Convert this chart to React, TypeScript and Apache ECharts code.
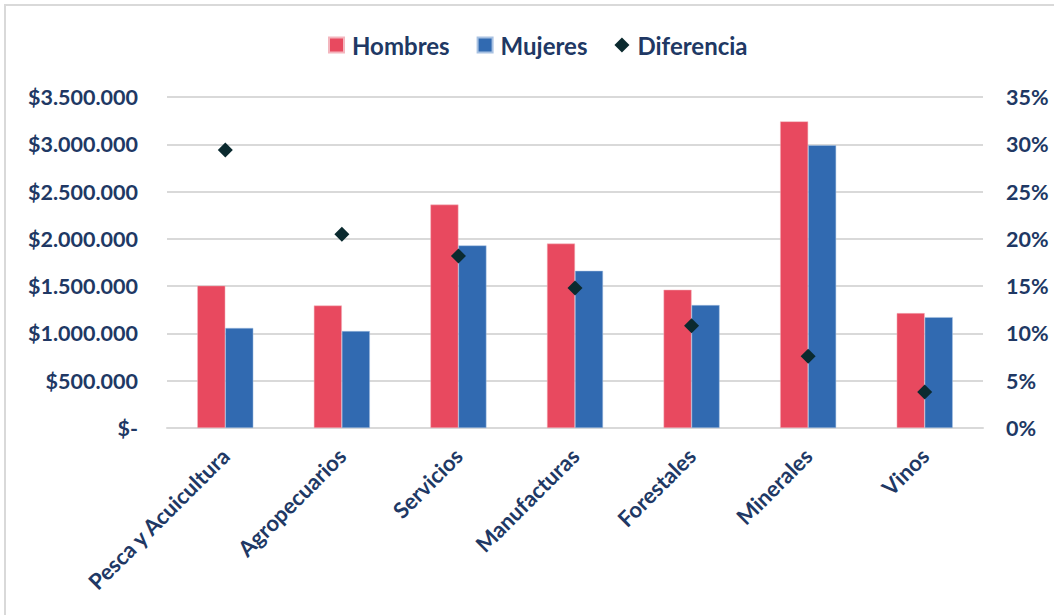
import React, { useEffect, useRef } from "react";
import * as echarts from "echarts";

const categories = [
  "Pesca y Acuicultura",
  "Agropecuarios",
  "Servicios",
  "Manufacturas",
  "Forestales",
  "Minerales",
  "Vinos",
];
const hombres = [1505000, 1295000, 2362000, 1950000, 1462000, 3242000, 1215000];
const mujeres = [1058000, 1025000, 1930000, 1662000, 1300000, 2990000, 1172000];
const diferencia = [29.4, 20.5, 18.2, 14.8, 10.8, 7.6, 3.8];

const TEXT = "#203864";
const FONT = "Lato";

function fmtMoney(v: number): string {
  if (v === 0) return "$-";
  const s = Math.round(v).toString().replace(/\B(?=(\d{3})+(?!\d))/g, ".");
  return "$" + s;
}

export default function App() {
  const ref = useRef<HTMLDivElement>(null);
  useEffect(() => {
    if (!ref.current) return;
    const chart = echarts.init(ref.current, null, { renderer: "svg" });
    chart.setOption({
      animation: false,
      backgroundColor: "#ffffff",
      textStyle: { fontFamily: FONT },
      graphic: [
        {
          type: "rect",
          shape: { x: 5, y: 5, width: 1100, height: 700 },
          style: { fill: "none", stroke: "#d9d9d9", lineWidth: 2 },
          silent: true,
        },
      ],
      legend: {
        left: 323,
        top: 28,
        itemGap: 27,
        itemWidth: 15,
        itemHeight: 15,
        textStyle: {
          color: TEXT,
          fontSize: 24,
          fontWeight: "bold",
          fontFamily: FONT,
          padding: [0, 0, 0, 3],
        },
        data: [
          { name: "Hombres", icon: "rect" },
          { name: "Mujeres", icon: "rect" },
          { name: "Diferencia", icon: "diamond" },
        ],
      },
      grid: { left: 167, right: 71, top: 97, bottom: 187, containLabel: false },
      xAxis: {
        type: "category",
        data: categories,
        axisLine: { show: true, lineStyle: { color: "#d9d9d9", width: 2 } },
        axisTick: { show: false },
        axisLabel: {
          rotate: 45,
          margin: 24,
          interval: 0,
          color: TEXT,
          fontSize: 22,
          fontWeight: "bold",
          fontFamily: FONT,
        },
      },
      yAxis: [
        {
          type: "value",
          min: 0,
          max: 3500000,
          interval: 500000,
          axisLine: { show: false },
          axisTick: { show: false },
          splitLine: { lineStyle: { color: "#d9d9d9", width: 2 } },
          axisLabel: {
            margin: 29,
            color: TEXT,
            fontSize: 21.5,
            fontWeight: "bold",
            fontFamily: FONT,
            formatter: fmtMoney,
          },
        },
        {
          type: "value",
          min: 0,
          max: 35,
          interval: 5,
          position: "right",
          axisLine: { show: false },
          axisTick: { show: false },
          splitLine: { show: false },
          axisLabel: {
            margin: 23,
            color: TEXT,
            fontSize: 21.5,
            fontWeight: "bold",
            fontFamily: FONT,
            formatter: (v: number) => v + "%",
          },
        },
      ],
      series: [
        {
          name: "Hombres",
          type: "bar",
          data: hombres,
          barWidth: 28,
          barGap: "0%",
          itemStyle: { color: "#e8495f", borderColor: "#f3b6be", borderWidth: 0.5 },
        },
        {
          name: "Mujeres",
          type: "bar",
          data: mujeres,
          barWidth: 28,
          barGap: "0%",
          itemStyle: { color: "#316ab1", borderColor: "#a9c2e2", borderWidth: 0.5 },
        },
        {
          name: "Diferencia",
          type: "scatter",
          yAxisIndex: 1,
          data: diferencia,
          symbol: "diamond",
          symbolSize: 15,
          itemStyle: { color: "#0b2a2f", opacity: 1 },
          z: 5,
        },
      ],
    });
    return () => chart.dispose();
  }, []);
  return (
    <div
      ref={ref}
      style={{ position: "fixed", left: 0, top: 0, width: 1054, height: 615, background: "#fff" }}
    />
  );
}
